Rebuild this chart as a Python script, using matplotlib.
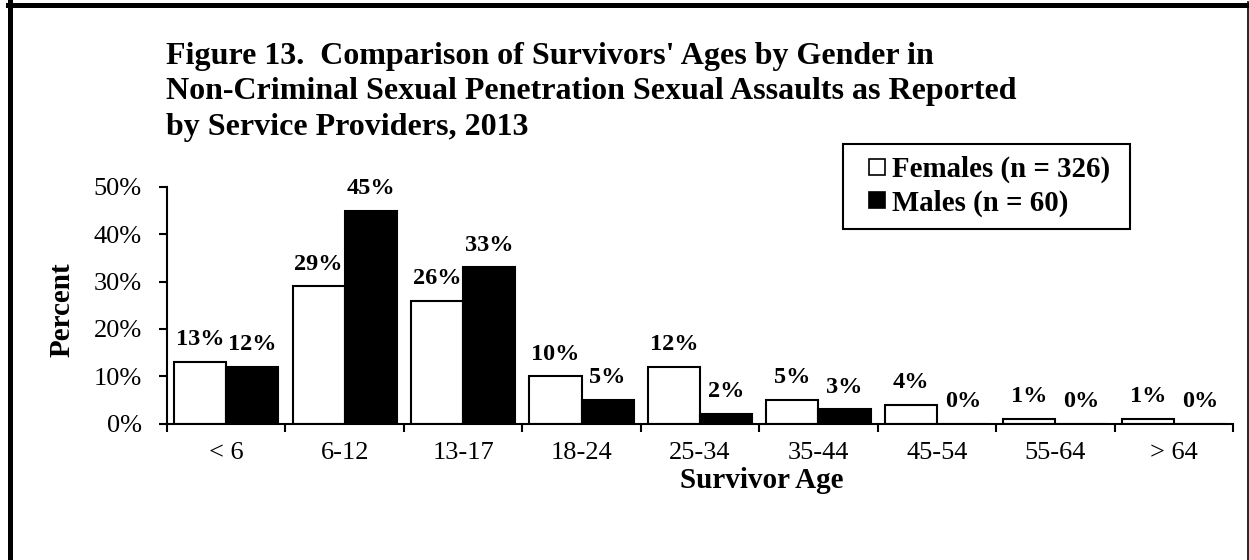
import matplotlib
matplotlib.use("Agg")
import matplotlib.pyplot as plt
from matplotlib.lines import Line2D
import numpy as np

categories = ["< 6", "6-12", "13-17", "18-24", "25-34", "35-44", "45-54", "55-64", "> 64"]
females = [13, 29, 26, 10, 12, 5, 4, 1, 1]
males = [12, 45, 33, 5, 2, 3, 0, 0, 0]
female_label = "Females (n = 326)"
male_label = "Males (n = 60)"
title_lines = ["Figure 13.  Comparison of Survivors' Ages by Gender in",
               "Non-Criminal Sexual Penetration Sexual Assaults as Reported",
               "by Service Providers, 2013"]
yticks = [0, 10, 20, 30, 40, 50]

W, H = 1249, 560
plt.rcParams['font.family'] = ['Liberation Serif', 'DejaVu Serif']
fig = plt.figure(figsize=(W / 100, H / 100), dpi=100)
fig.patch.set_facecolor('white')

# figure frame (left, top, right)
fig.add_artist(Line2D([10 / W, 10 / W], [0, 1 - 2 / H], transform=fig.transFigure, color='black', lw=3.6))
fig.add_artist(Line2D([8 / W, 1248 / W], [1 - 4.5 / H, 1 - 4.5 / H], transform=fig.transFigure, color='black', lw=3.6))
fig.add_artist(Line2D([1247.5 / W, 1247.5 / W], [0, 1 - 2 / H], transform=fig.transFigure, color='black', lw=1.2))

left, right, bottom, top = 167 / W, 1233 / W, 1 - 423.5 / H, 1 - 187 / H
ax = fig.add_axes([left, bottom, right - left, top - bottom])

x = np.arange(len(categories))
bw = 0.44
b1 = ax.bar(x - bw / 2, females, bw, color='white', edgecolor='black', linewidth=1.5, label=female_label)
b2 = ax.bar(x + bw / 2, males, bw, color='black', edgecolor='black', linewidth=1.5, label=male_label)

for bars, vals in ((b1, females), (b2, males)):
    for rect, v in zip(bars, vals):
        ax.annotate(f"{v}%", (rect.get_x() + rect.get_width() / 2, rect.get_height()),
                    xytext=(0, 12), textcoords='offset points', ha='center', va='baseline',
                    fontsize=17.5, fontweight='bold', annotation_clip=False)

ax.set_xlim(-0.5, len(categories) - 0.5)
ax.set_ylim(0, 50)
ax.set_yticks(yticks)
ax.set_yticklabels([f"{t}%" for t in yticks])
ax.set_xticks(np.arange(len(categories) + 1) - 0.5)
ax.set_xticklabels([])
ax.set_xticks(x, minor=True)
ax.set_xticklabels(categories, minor=True)
ax.tick_params(axis='x', which='major', direction='out', length=6, width=1.5)
ax.tick_params(axis='x', which='minor', length=0, pad=13, labelsize=19)
ax.tick_params(axis='y', direction='out', length=6, width=1.5, pad=12, labelsize=19)
for s in ('top', 'right'):
    ax.spines[s].set_visible(False)
for s in ('left', 'bottom'):
    ax.spines[s].set_linewidth(1.5)

fig.text(62 / W, 1 - 310 / H, "Percent", rotation=90, ha='center', va='center',
         fontsize=21, fontweight='bold')
fig.text(762 / W, 1 - 480 / H, "Survivor Age", ha='center', va='center',
         fontsize=21, fontweight='bold')

for i, line in enumerate(title_lines):
    fig.text(166 / W, 1 - (64 + 35.5 * i) / H, line, ha='left', va='baseline',
             fontsize=23, fontweight='bold')

handles = [Line2D([], [], linestyle='none', marker='s', markersize=11.5, markerfacecolor='white',
                  markeredgecolor='black', markeredgewidth=1.2, label=female_label),
           Line2D([], [], linestyle='none', marker='s', markersize=11.5, markerfacecolor='black',
                  markeredgecolor='black', markeredgewidth=1.2, label=male_label)]
leg = fig.legend(handles=handles, loc='upper left',
                 bbox_to_anchor=(843 / W, 1 - 228 / H, (1130 - 843) / W, 84 / H),
                 bbox_transform=fig.transFigure, mode='expand',
                 frameon=True, fancybox=False, framealpha=1,
                 edgecolor='black', prop={'weight': 'bold', 'size': 20.8},
                 handlelength=1.5, handletextpad=-0.22,
                 borderpad=0.42, labelspacing=0.2, borderaxespad=0)
leg.get_frame().set_linewidth(1.5)

fig.savefig("out.png", dpi=100, facecolor='white')
